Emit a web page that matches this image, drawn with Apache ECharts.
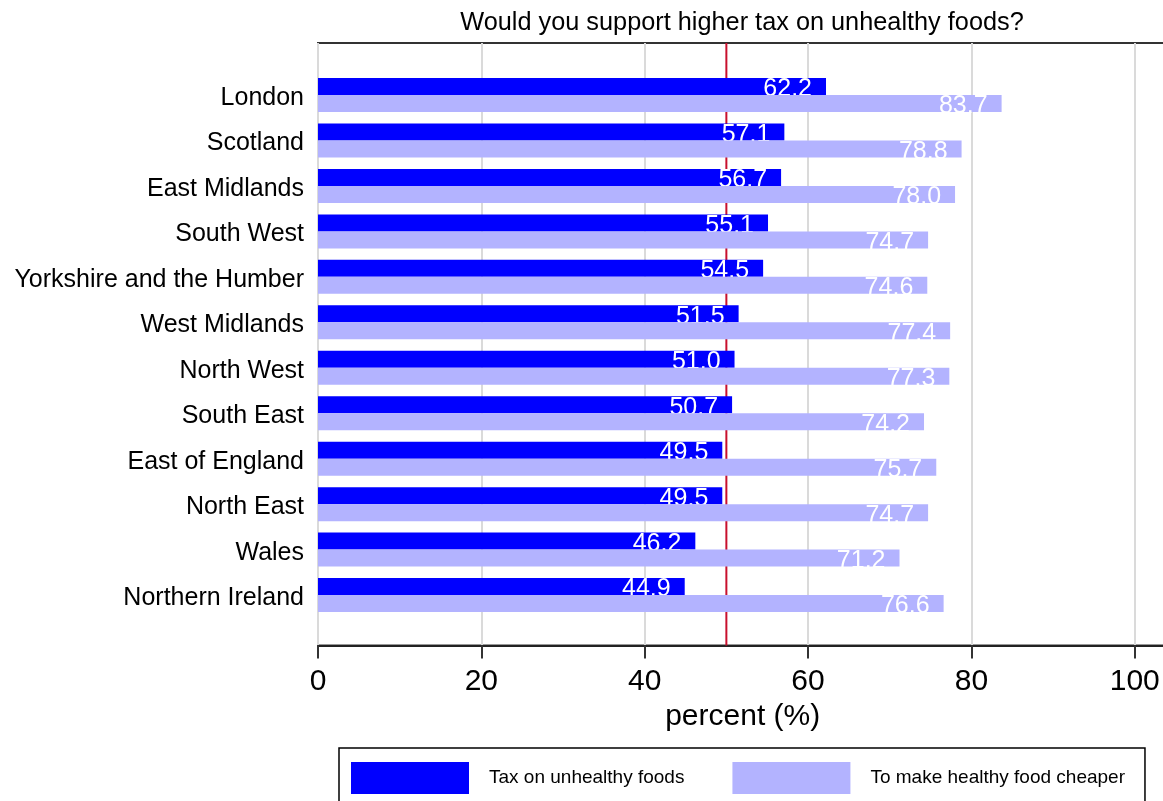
<!DOCTYPE html>
<html>
<head>
<meta charset="utf-8">
<script src="https://cdn.jsdelivr.net/npm/echarts@6/dist/echarts.min.js"></script>
<style>
html,body{margin:0;padding:0;background:#fff;}
#chart{width:1163px;height:801px;}
</style>
</head>
<body>
<div id="chart"></div>
<script>
const categories = ['London','Scotland','East Midlands','South West','Yorkshire and the Humber','West Midlands','North West','South East','East of England','North East','Wales','Northern Ireland'];
const taxValues = [62.2,57.1,56.7,55.1,54.5,51.5,51.0,50.7,49.5,49.5,46.2,44.9];
const cheaperValues = [83.7,78.8,78.0,74.7,74.6,77.4,77.3,74.2,75.7,74.7,71.2,76.6];
const seriesNames = ['Tax on unhealthy foods','To make healthy food cheaper'];
const xTickLabels = [0,20,40,60,80,100];
const referenceValue = 50;

const FONT = "'Liberation Sans', Arial, sans-serif";
const chart = echarts.init(document.getElementById('chart'), null, {renderer:'canvas'});

const labelCfg = {
  show: true,
  position: 'insideRight',
  distance: 14,
  offset: [0, 3],
  color: '#ffffff',
  fontFamily: FONT,
  fontSize: 25,
  formatter: p => Number(p.value).toFixed(1)
};

const option = {
  animation: false,
  backgroundColor: '#ffffff',
  textStyle: {fontFamily: FONT},
  title: {
    text: 'Would you support higher tax on unhealthy foods?',
    left: 742, top: 11, padding: 0,
    textAlign: 'center',
    textStyle: {fontFamily: FONT, fontSize: 25.3, fontWeight: 'normal', color: '#000'}
  },
  legend: {
    data: seriesNames,
    left: 339, top: 748,
    padding: [14, 20, 14, 12],
    itemWidth: 118, itemHeight: 32, itemGap: 48,
    icon: 'rect',
    borderColor: '#000', borderWidth: 1.5,
    textStyle: {fontFamily: FONT, fontSize: 19, color: '#000', padding: [0,0,0,15]}
  },
  grid: [
    {left: 318, top: 43, width: 849.4, height: 602.5, show: true, borderColor: '#333', borderWidth: 2, backgroundColor: 'transparent', outerBoundsMode: 'none', containLabel: false},
    {left: 318, top: 72.3, width: 849.4, height: 545.5, outerBoundsMode: 'none', containLabel: false}
  ],
  xAxis: [
    {
      type: 'value', gridIndex: 0, min: 0, max: 104, interval: 20,
      axisLine: {show: true, lineStyle: {color: '#222', width: 2}},
      axisTick: {show: true, length: 13, lineStyle: {color: '#333', width: 2}},
      axisLabel: {
        fontFamily: FONT, fontSize: 30, color: '#000', margin: 21,
        formatter: v => xTickLabels.indexOf(v) >= 0 ? String(v) : ''
      },
      splitLine: {show: true, lineStyle: {color: '#dadada', width: 2}},
      name: 'percent (%)', nameLocation: 'middle', nameGap: 56,
      nameTextStyle: {fontFamily: FONT, fontSize: 30, color: '#000'}
    },
    {type: 'value', gridIndex: 1, min: 0, max: 104, show: false}
  ],
  yAxis: [
    {type: 'value', gridIndex: 0, min: 0, max: 1, show: false},
    {
      type: 'category', gridIndex: 1, data: categories, inverse: true,
      axisLine: {show: false}, axisTick: {show: false},
      axisLabel: {
        margin: 14,
        formatter: v => '{c|' + v + '}',
        rich: {c: {fontFamily: FONT, fontSize: 25, color: '#000', padding: [6, 0, 0, 0]}}
      },
      splitLine: {show: false}
    }
  ],
  series: [
    {
      name: 'ref', type: 'line', xAxisIndex: 0, yAxisIndex: 0,
      data: [[referenceValue, 0], [referenceValue, 1]],
      showSymbol: false, silent: true, z: 1,
      lineStyle: {color: '#c8102e', width: 2}
    },
    {
      name: seriesNames[0], type: 'bar', xAxisIndex: 1, yAxisIndex: 1,
      data: taxValues, barWidth: 17, barGap: '0%', z: 3,
      itemStyle: {color: '#0000ff'},
      label: labelCfg
    },
    {
      name: seriesNames[1], type: 'bar', xAxisIndex: 1, yAxisIndex: 1,
      data: cheaperValues, barWidth: 17, barGap: '0%', z: 4,
      itemStyle: {color: '#b3b3ff'},
      label: labelCfg
    }
  ]
};
chart.setOption(option);
</script>
</body>
</html>
